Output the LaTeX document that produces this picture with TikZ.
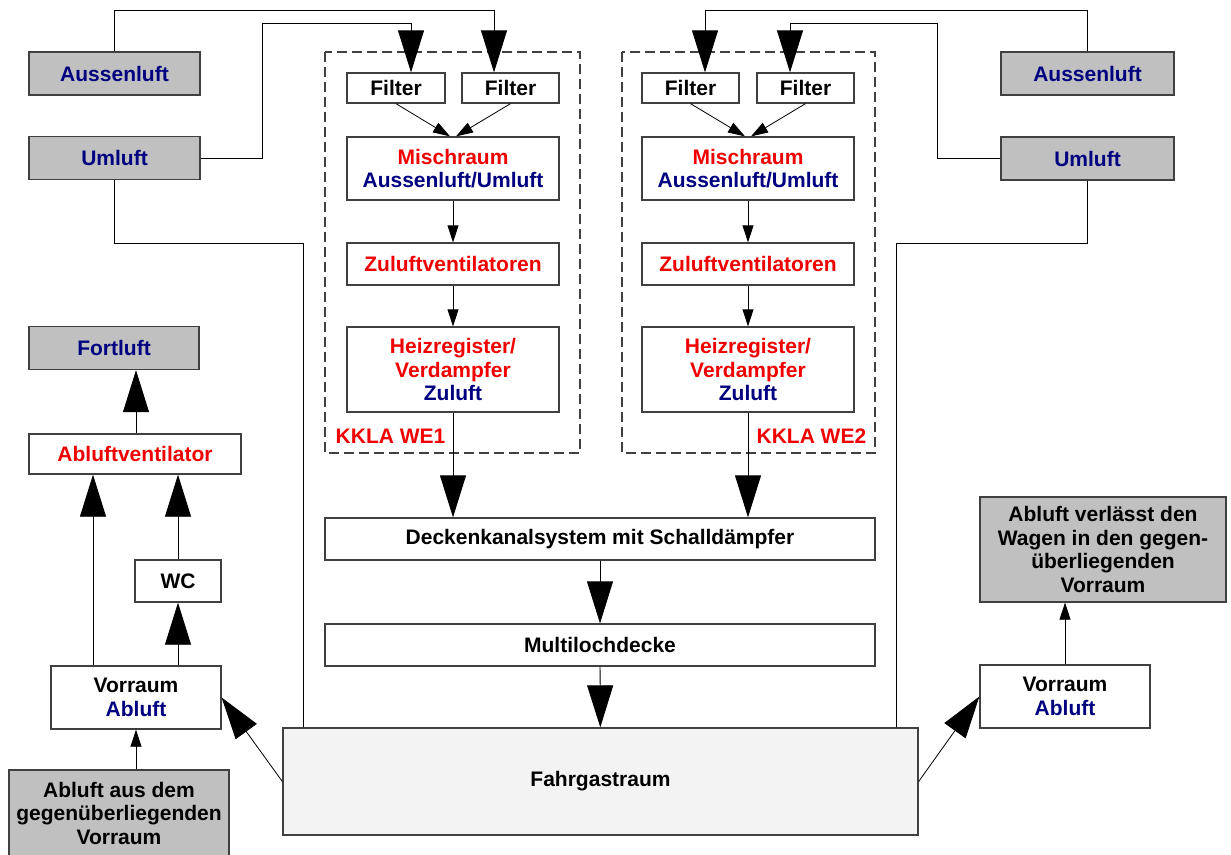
\documentclass[tikz,border=0pt]{standalone}
\usepackage{fontspec}
\setmainfont{Liberation Sans}
\usetikzlibrary{arrows.meta}

\definecolor{airred}{RGB}{240,0,0}
\definecolor{airnavy}{RGB}{0,0,128}
\definecolor{airgray}{RGB}{192,192,192}
\definecolor{hallgray}{RGB}{243,243,243}
\definecolor{edgegray}{RGB}{64,64,64}

\tikzset{
  flowbox/.style={draw=edgegray, line width=1.3pt, fill=white, inner sep=0pt, align=center},
  airbox/.style={flowbox, fill=airgray},
  unitframe/.style={draw=edgegray, line width=1.2pt, dash pattern=on 10pt off 5pt},
  bigarrow/.style={-{Triangle[length=42pt,width=26pt]}},
  smallarrow/.style={-{Triangle[length=17pt,width=11pt]}}
}

\begin{document}
\begin{tikzpicture}[x=1pt,y=-1pt,line width=0.8pt,font=\fontsize{21}{23.5}\selectfont\bfseries]

\def\REDCOLOR{airred}
\def\NAVYCOLOR{airnavy}
	\useasboundingbox (0,0) rectangle (1231,854);

	% the two air-conditioning units
	\draw[unitframe] (325,52) rectangle (580,453);
	\draw[unitframe] (622,52) rectangle (875,453);

	\node[airbox, minimum width=171pt, minimum height=43pt] (ausL) at (114.5,73.5) {\textcolor{\NAVYCOLOR}{Aussenluft}};
	\node[airbox, minimum width=171pt, minimum height=43pt] (umL) at (114.5,158) {\textcolor{\NAVYCOLOR}{Umluft}};
	\node[airbox, minimum width=173pt, minimum height=43pt] (ausR) at (1087.5,73.5) {\textcolor{\NAVYCOLOR}{Aussenluft}};
	\node[airbox, minimum width=173pt, minimum height=43pt] (umR) at (1087.5,158.5) {\textcolor{\NAVYCOLOR}{Umluft}};

	\node[flowbox, minimum width=98pt, minimum height=30pt] (f1) at (396,88) {Filter};
	\node[flowbox, minimum width=97pt, minimum height=30pt] (f2) at (510.5,88) {Filter};
	\node[flowbox, minimum width=97pt, minimum height=30pt] (f3) at (690.5,88) {Filter};
	\node[flowbox, minimum width=97pt, minimum height=30pt] (f4) at (805.5,88) {Filter};

	\node[flowbox, minimum width=212pt, minimum height=63pt, text=\REDCOLOR] (mix1) at (453,168.5) {Mischraum\\\textcolor{\NAVYCOLOR}{Aussenluft/Umluft}};
	\node[flowbox, minimum width=212pt, minimum height=42pt, text=\REDCOLOR] (zu1) at (453,264) {Zuluftventilatoren};
	\node[flowbox, minimum width=212pt, minimum height=85pt, text=\REDCOLOR] (heiz1) at (453,369.5) {Heizregister/\\Verdampfer\\\textcolor{\NAVYCOLOR}{Zuluft}};
	\node[flowbox, minimum width=212pt, minimum height=63pt, text=\REDCOLOR] (mix2) at (748,168.5) {Mischraum\\\textcolor{\NAVYCOLOR}{Aussenluft/Umluft}};
	\node[flowbox, minimum width=212pt, minimum height=42pt, text=\REDCOLOR] (zu2) at (748,264) {Zuluftventilatoren};
	\node[flowbox, minimum width=212pt, minimum height=85pt, text=\REDCOLOR] (heiz2) at (748,369.5) {Heizregister/\\Verdampfer\\\textcolor{\NAVYCOLOR}{Zuluft}};
	\node[anchor=base west, text=\REDCOLOR] (we1) at (332,443) {KKLA WE1};
	\node[anchor=base east, text=\REDCOLOR] (we2) at (870,443) {KKLA WE2};

	\node[flowbox, minimum width=550pt, minimum height=42pt] (decken) at (600,539) {Deckenkanalsystem mit Schalldämpfer};
	\node[flowbox, minimum width=550pt, minimum height=42pt] (multi) at (600,645) {Multilochdecke};
	\node[flowbox, fill=hallgray, minimum width=635pt, minimum height=107pt] (fahrg) at (600.5,781.5) {Fahrgastraum};

	% exhaust side
	\node[airbox, minimum width=170pt, minimum height=43pt] (fort) at (114,348) {\textcolor{\NAVYCOLOR}{Fortluft}};
	\node[flowbox, minimum width=212pt, minimum height=40pt, text=\REDCOLOR] (abvent) at (135,454) {Abluftventilator};
	\node[flowbox, minimum width=86pt, minimum height=42pt] (wc) at (178,581) {WC};
	\node[flowbox, minimum width=170pt, minimum height=63pt] (vorL) at (136,697.5) {Vorraum\\\textcolor{\NAVYCOLOR}{Abluft}};
	\node[airbox, minimum width=220pt, minimum height=86pt] (abaus) at (119,813) {Abluft aus dem\\gegenüberliegenden\\Vorraum};
	\node[airbox, minimum width=246pt, minimum height=105pt] (abverl) at (1103,549.5) {Abluft verlässt den\\Wagen in den gegen-\\überliegenden\\Vorraum};
	\node[flowbox, minimum width=170pt, minimum height=63pt] (vorR) at (1065,696.5) {Vorraum\\\textcolor{\NAVYCOLOR}{Abluft}};

	\coordinate (topA) at (0,10);
	\coordinate (topB) at (0,23);
	\coordinate (retL) at (303,243);
	\coordinate (retR) at (896,243);

	% supply air
	\draw[bigarrow] (ausL.north) |- ([xshift=-16.5pt]f2.north |- topA) -- ([xshift=-16.5pt]f2.north);
	\draw[bigarrow] (umL.east) -- ++(62pt,0) |- ([xshift=15pt]f1.north |- topB) -- ([xshift=15pt]f1.north);
	\draw[bigarrow] (ausR.north) |- ([xshift=14.5pt]f3.north |- topA) -- ([xshift=14.5pt]f3.north);
	\draw[bigarrow] (umR.west) -- ++(-63pt,0) |- ([xshift=-15.5pt]f4.north |- topB) -- ([xshift=-15.5pt]f4.north);
	\draw (umL.south) |- (retL) -- (retL |- fahrg.north);
	\draw (umR.south) |- (retR) -- (retR |- fahrg.north);

	\draw[smallarrow] (f1.south) -- ([xshift=-3pt]mix1.north);
	\draw[smallarrow] (f2.south) -- ([xshift=3pt]mix1.north);
	\draw[smallarrow] (f3.south) -- ([xshift=-3pt]mix2.north);
	\draw[smallarrow] (f4.south) -- ([xshift=3pt]mix2.north);
	\draw[smallarrow] (mix1) -- (zu1);
	\draw[smallarrow] (zu1) -- (heiz1);
	\draw[smallarrow] (mix2) -- (zu2);
	\draw[smallarrow] (zu2) -- (heiz2);

	\draw[bigarrow] (heiz1.south) -- (heiz1.south |- decken.north);
	\draw[bigarrow] (heiz2.south) -- (heiz2.south |- decken.north);
	\draw[bigarrow] (decken) -- (multi);
	\draw[bigarrow] (multi) -- (fahrg);

	% exhaust air
	\draw[bigarrow] (fahrg.west) -- (vorL.east);
	\draw[bigarrow] (fahrg.east) -- (vorR.west);
	\draw[smallarrow] (vorL.south |- abaus.north) -- (vorL.south);
	\draw[bigarrow] (vorL.north -| wc.south) -- (wc.south);
	\draw[bigarrow] ([xshift=-43pt]vorL.north) -- ([xshift=-43pt]vorL.north |- abvent.south);
	\draw[bigarrow] (wc.north) -- (wc.north |- abvent.south);
	\draw[bigarrow] (abvent.north -| vorL.north) -- (vorL.north |- fort.south);
	\draw[smallarrow] (vorR.north) -- (vorR.north |- abverl.south);

\end{tikzpicture}
\end{document}
